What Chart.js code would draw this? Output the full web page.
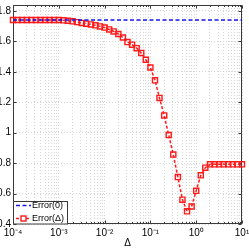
<!DOCTYPE html>
<html><head><meta charset="utf-8">
<script src="https://cdn.jsdelivr.net/npm/chart.js@4/dist/chart.umd.min.js"></script>
<style>html,body{margin:0;padding:0;background:#fff}#w{width:249px;height:249px;position:relative}</style>
</head><body><div id="w"><canvas id="c"></canvas></div>
<script>
const deltaValues = [
  0.0001, 0.000126, 0.000158, 0.0002, 0.000251, 0.000316, 0.000398, 0.000501, 0.000631, 0.000794,
  0.001, 0.00126, 0.00158, 0.002, 0.00251, 0.00316, 0.00398, 0.00501, 0.00631, 0.00794,
  0.01, 0.0126, 0.0158, 0.02, 0.0251, 0.0316, 0.0398, 0.0501, 0.0631, 0.0794,
  0.1, 0.126, 0.158, 0.2, 0.251, 0.316, 0.398, 0.501, 0.631, 0.794,
  1, 1.26, 1.58, 2, 2.51, 3.16, 3.98, 5.01, 6.31, 7.94, 10
];
const errorZero = [
  1.74, 1.74, 1.74, 1.74, 1.74, 1.74, 1.74, 1.74, 1.74, 1.74,
  1.74, 1.74, 1.74, 1.74, 1.74, 1.74, 1.74, 1.74, 1.74, 1.74,
  1.74, 1.74, 1.74, 1.74, 1.74, 1.74, 1.74, 1.74, 1.74, 1.74,
  1.74, 1.74, 1.74, 1.74, 1.74, 1.74, 1.74, 1.74, 1.74, 1.74,
  1.74, 1.74, 1.74, 1.74, 1.74, 1.74, 1.74, 1.74, 1.74, 1.74, 1.74
];
const errorDelta = [
  1.74, 1.74, 1.74, 1.74, 1.74, 1.74, 1.74, 1.74, 1.74, 1.74,
  1.74, 1.738, 1.735, 1.731, 1.726, 1.721, 1.716, 1.711, 1.705, 1.698,
  1.69, 1.678, 1.665, 1.648, 1.625, 1.595, 1.578, 1.555, 1.524, 1.479,
  1.428, 1.344, 1.228, 1.113, 0.984, 0.856, 0.708, 0.56, 0.483, 0.515,
  0.618, 0.72, 0.77, 0.792, 0.792, 0.792, 0.792, 0.792, 0.792, 0.792, 0.792
];
const seriesLabels = ['Error(0)', 'Error(\u0394)'];
const xMajorTicks = [0.0001, 0.001, 0.01, 0.1, 1, 10];
const xTickLabels = ['10\u207B\u2074', '10\u207B\u00B3', '10\u207B\u00B2', '10\u207B\u00B9', '10\u2070', '10\u00B9'];
const yTicks = [0.4, 0.6, 0.8, 1, 1.2, 1.4, 1.6, 1.8];
const yTickLabels = ['0.4', '0.6', '0.8', '1', '1.2', '1.4', '1.6', '1.8'];
const xTitle = '\u0394';

const FONT = '"Liberation Sans", Arial, sans-serif';
const AX = '#3a3a3a';
const GRID = '#d6d6d6';

const xAllTicks = [];
xMajorTicks.forEach((m, i) => {
  if (i < xMajorTicks.length - 1) { for (let k = 1; k <= 9; k++) xAllTicks.push(m * k); }
  else xAllTicks.push(m);
});
function majorIndex(v) {
  return xMajorTicks.findIndex(m => Math.abs(Math.log10(m) - Math.log10(v)) < 1e-6);
}

const framePlugin = {
  id: 'frame',
  beforeDatasetsDraw(chart) {
    const {ctx, chartArea: a, scales} = chart;
    ctx.save();
    ctx.strokeStyle = AX; ctx.lineWidth = 1;
    const L = Math.round(a.left) + 0.5, R = Math.round(a.right) - 0.5;
    const T = Math.round(a.top) + 0.5, B = Math.round(a.bottom) - 0.5;
    ctx.strokeRect(L, T, R - L, B - T);
    ctx.beginPath();
    yTicks.forEach(v => {
      const y = Math.round(scales.y.getPixelForValue(v)) + 0.5;
      ctx.moveTo(L, y); ctx.lineTo(L + 3, y);
      ctx.moveTo(R, y); ctx.lineTo(R - 3, y);
    });
    xAllTicks.forEach(v => {
      const x = Math.round(scales.x.getPixelForValue(v)) + 0.5;
      const len = majorIndex(v) >= 0 ? 3 : 1.5;
      ctx.moveTo(x, B); ctx.lineTo(x, B - len);
      ctx.moveTo(x, T); ctx.lineTo(x, T + len);
    });
    ctx.stroke();
    ctx.restore();
  },
  afterDraw(chart) {
    const {ctx} = chart;
    const ds = chart.data.datasets;
    ctx.save();
    const bx = 13.5, by = 201.5, bw = 54, bh = 22.5;
    ctx.fillStyle = '#fff';
    ctx.fillRect(bx, by, bw, bh);
    ctx.strokeStyle = AX; ctx.lineWidth = 1;
    ctx.strokeRect(bx, by, bw, bh);
    const rows = [205.5, 218.5];
    rows.forEach((ry, i) => {
      const d = ds[i];
      ctx.save();
      ctx.strokeStyle = d.borderColor; ctx.lineWidth = d.borderWidth;
      ctx.setLineDash(d.borderDash);
      ctx.beginPath(); ctx.moveTo(16, ry); ctx.lineTo(31, ry); ctx.stroke();
      ctx.restore();
      if (d.pointRadius > 0) {
        ctx.save();
        ctx.strokeStyle = d.pointBorderColor; ctx.lineWidth = d.pointBorderWidth;
        ctx.fillStyle = '#fff';
        ctx.fillRect(21, ry - 2.5, 5, 5);
        ctx.strokeRect(21, ry - 2.5, 5, 5);
        ctx.restore();
      }
      ctx.fillStyle = '#000';
      ctx.font = '9px ' + FONT;
      ctx.textBaseline = 'middle';
      ctx.textAlign = 'left';
      ctx.fillText(d.label, 32, ry + 0.5);
    });
    ctx.restore();
  }
};

new Chart(document.getElementById('c'), {
  type: 'line',
  data: {
    datasets: [
      {
        label: seriesLabels[0],
        data: deltaValues.map((x, i) => ({x, y: errorZero[i]})),
        borderColor: '#1515ee', borderWidth: 1.5, borderDash: [4, 2.5],
        pointRadius: 0, fill: false, tension: 0
      },
      {
        label: seriesLabels[1],
        data: deltaValues.map((x, i) => ({x, y: errorDelta[i]})),
        borderColor: '#ff1a1a', borderWidth: 1.5, borderDash: [3, 2],
        pointStyle: 'rect', pointRadius: 3.6, pointBorderWidth: 1.4,
        pointBorderColor: '#ff1a1a', pointBackgroundColor: 'rgba(255,255,255,0)',
        pointHoverRadius: 3.6, fill: false, tension: 0, clip: false
      }
    ]
  },
  options: {
    responsive: true, maintainAspectRatio: false, animation: false,
    devicePixelRatio: 1,
    layout: {padding: {top: 0, right: 7, left: 0, bottom: 0}},
    plugins: {legend: {display: false}, tooltip: {enabled: false}},
    scales: {
      x: {
        type: 'logarithmic', min: 0.0001, max: 10,
        afterBuildTicks(s) { s.ticks = xAllTicks.map(v => ({value: v})); },
        afterFit(s) { s.height = 25; s.paddingLeft = 0; s.paddingRight = 0; },
        ticks: {
          autoSkip: false, maxRotation: 0, minRotation: 0, padding: 3,
          color: '#000', font: {family: FONT, size: 10},
          callback(v) { const j = majorIndex(v); return j >= 0 ? xTickLabels[j] : ''; }
        },
        grid: {color: GRID, lineWidth: 1, drawTicks: false},
        border: {display: false, dash: [1, 2]},
        title: {display: true, text: xTitle, color: '#000', font: {family: FONT, size: 10}, padding: 0}
      },
      y: {
        type: 'linear', min: 0.4, max: 1.8385,
        afterBuildTicks(s) { s.ticks = yTicks.map(v => ({value: v})); },
        afterFit(s) { s.width = 13; s.paddingTop = 0; s.paddingBottom = 0; },
        ticks: {
          padding: 2, color: '#000', font: {family: FONT, size: 10},
          callback(v) { const j = yTicks.findIndex(t => Math.abs(t - v) < 1e-6); return j >= 0 ? yTickLabels[j] : ''; }
        },
        grid: {color: GRID, lineWidth: 1, drawTicks: false},
        border: {display: false, dash: [1, 2]}
      }
    }
  },
  plugins: [framePlugin]
});
</script>
</body></html>
